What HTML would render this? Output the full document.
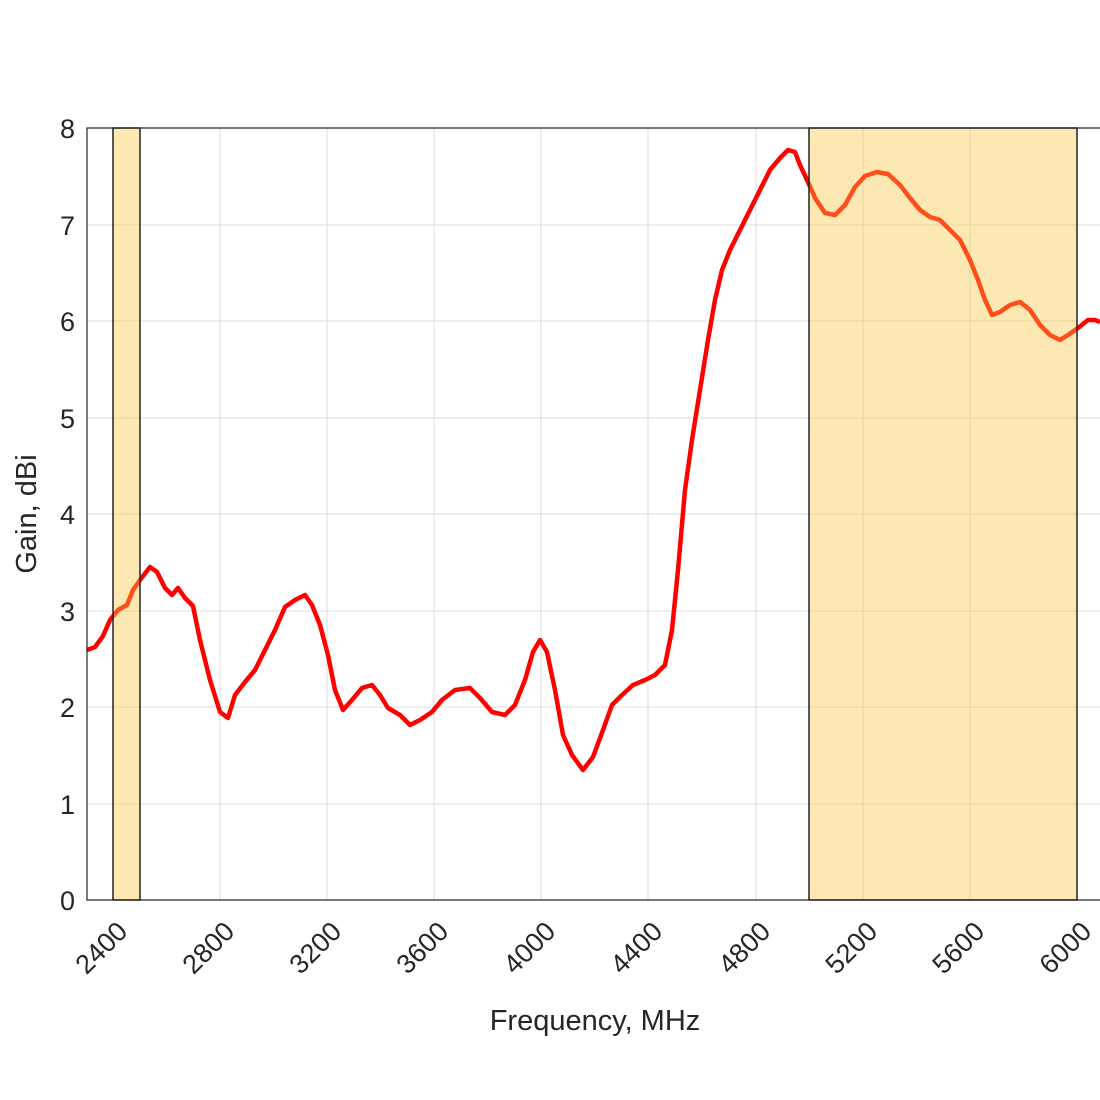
<!DOCTYPE html>
<html><head><style>body{margin:0;background:#fff}svg{display:block}</style></head><body>
<svg width="1100" height="1100" viewBox="0 0 1100 1100" xmlns="http://www.w3.org/2000/svg" font-family="Liberation Sans, sans-serif">
<rect width="1100" height="1100" fill="#fff"/>
<g stroke="#dcdcdc" stroke-width="1">
<line x1="87" y1="804" x2="1100" y2="804"/><line x1="87" y1="707" x2="1100" y2="707"/><line x1="87" y1="611" x2="1100" y2="611"/><line x1="87" y1="514" x2="1100" y2="514"/><line x1="87" y1="418" x2="1100" y2="418"/><line x1="87" y1="321" x2="1100" y2="321"/><line x1="87" y1="225" x2="1100" y2="225"/>
<line x1="113" y1="128" x2="113" y2="900"/><line x1="220" y1="128" x2="220" y2="900"/><line x1="327" y1="128" x2="327" y2="900"/><line x1="434" y1="128" x2="434" y2="900"/><line x1="541" y1="128" x2="541" y2="900"/><line x1="648" y1="128" x2="648" y2="900"/><line x1="756" y1="128" x2="756" y2="900"/><line x1="863" y1="128" x2="863" y2="900"/><line x1="970" y1="128" x2="970" y2="900"/><line x1="1077" y1="128" x2="1077" y2="900"/>
</g>
<polyline fill="none" stroke="#ff0000" stroke-width="4.5" stroke-linejoin="round" points="87,650 95,647 103,636 110,620 118,610 127,605 133,590 140,580 150,567 157,572 165,588 172,595 178,588 185,598 193,606 200,640 210,680 220,712 228,718 235,695 245,682 255,670 265,650 275,630 285,607 295,600 305,595 312,605 320,625 328,655 335,690 343,710 352,700 362,688 372,685 380,695 388,708 400,715 410,725 420,720 432,712 442,700 455,690 470,688 480,698 492,712 505,715 515,705 525,680 533,652 540,640 547,652 555,690 563,735 572,755 583,770 593,757 603,730 612,705 622,695 633,685 645,680 655,675 665,665 672,630 678,570 685,490 692,440 700,390 708,340 715,300 722,270 730,250 740,230 750,210 760,190 770,170 780,158 788,150 795,152 800,165 808,182 815,198 825,213 835,215 845,205 855,187 865,176 877,172 888,174 900,185 910,198 920,210 930,217 940,220 950,230 960,240 970,260 978,280 985,300 992,315 1000,312 1010,305 1020,302 1030,310 1040,325 1050,335 1060,340 1068,335 1078,328 1088,320 1095,320 1100,322"/>
<g fill="#fbc640" fill-opacity="0.4" stroke="#222" stroke-width="1.5">
<rect x="113" y="128" width="27" height="772"/>
<rect x="809" y="128" width="268" height="772"/>
</g>
<g stroke="#262626" stroke-width="1.2" fill="none">
<polyline points="1100,128 87,128 87,900 1100,900"/>
</g>
<g font-size="27" fill="#262626" text-anchor="end">
<text x="75" y="910">0</text><text x="75" y="814">1</text><text x="75" y="717">2</text><text x="75" y="621">3</text><text x="75" y="524">4</text><text x="75" y="428">5</text><text x="75" y="331">6</text><text x="75" y="235">7</text><text x="75" y="138">8</text>
</g>
<g font-size="27" fill="#262626" text-anchor="end">
<text transform="translate(129,933) rotate(-45)">2400</text>
<text transform="translate(236,933) rotate(-45)">2800</text>
<text transform="translate(343,933) rotate(-45)">3200</text>
<text transform="translate(450,933) rotate(-45)">3600</text>
<text transform="translate(557,933) rotate(-45)">4000</text>
<text transform="translate(664,933) rotate(-45)">4400</text>
<text transform="translate(772,933) rotate(-45)">4800</text>
<text transform="translate(879,933) rotate(-45)">5200</text>
<text transform="translate(986,933) rotate(-45)">5600</text>
<text transform="translate(1093,933) rotate(-45)">6000</text>
</g>
<text x="595" y="1030" font-size="29" fill="#262626" text-anchor="middle">Frequency, MHz</text>
<text transform="translate(36,514) rotate(-90)" font-size="29" fill="#262626" text-anchor="middle">Gain, dBi</text>
</svg>
</body></html>
